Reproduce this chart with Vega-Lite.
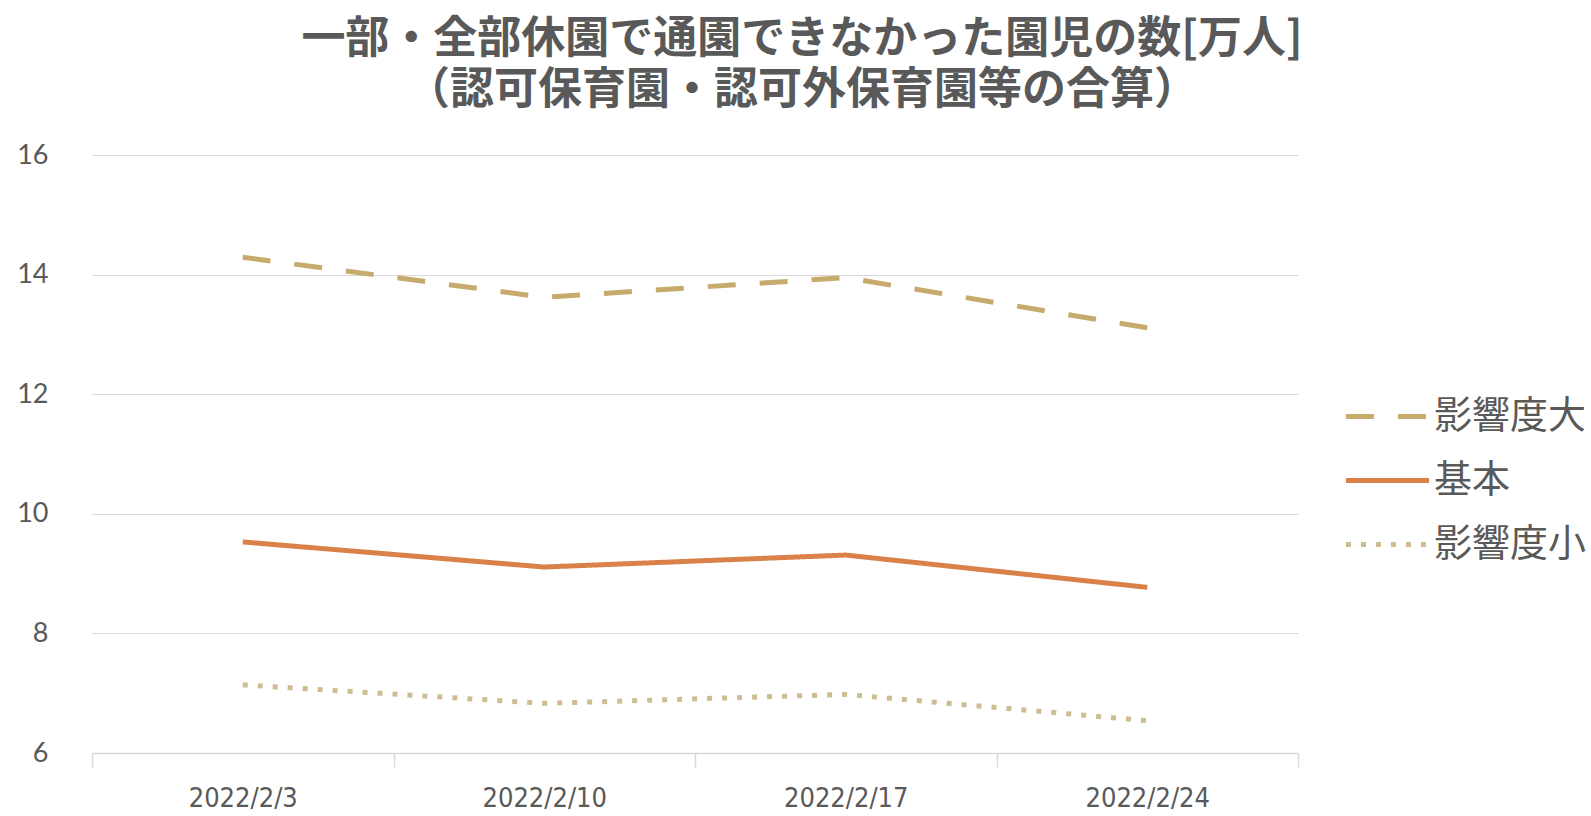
{
  "$schema": "https://vega.github.io/schema/vega-lite/v6.json",
  "width": 1206,
  "height": 598,
  "autosize": {"type": "none"},
  "padding": {"left": 92, "top": 155, "right": 293, "bottom": 63},
  "background": "white",
  "config": {"view": {"stroke": null}},
  "title": {
    "text": ["一部・全部休園で通園できなかった園児の数[万人]", "（認可保育園・認可外保育園等の合算）"],
    "anchor": "middle",
    "frame": "group",
    "dx": 107,
    "offset": 28,
    "font": "Noto Sans CJK JP",
    "fontSize": 44,
    "fontWeight": "bold",
    "color": "#595959",
    "lineHeight": 51
  },
  "data": {
    "values": [
      {"date": "2022/2/3", "series": "影響度大", "value": 14.29},
      {"date": "2022/2/10", "series": "影響度大", "value": 13.62},
      {"date": "2022/2/17", "series": "影響度大", "value": 13.95},
      {"date": "2022/2/24", "series": "影響度大", "value": 13.11},
      {"date": "2022/2/3", "series": "基本", "value": 9.53},
      {"date": "2022/2/10", "series": "基本", "value": 9.11},
      {"date": "2022/2/17", "series": "基本", "value": 9.31},
      {"date": "2022/2/24", "series": "基本", "value": 8.77},
      {"date": "2022/2/3", "series": "影響度小", "value": 7.14},
      {"date": "2022/2/10", "series": "影響度小", "value": 6.83},
      {"date": "2022/2/17", "series": "影響度小", "value": 6.98},
      {"date": "2022/2/24", "series": "影響度小", "value": 6.54}
    ]
  },
  "mark": {"type": "line", "strokeWidth": 5, "strokeCap": "butt"},
  "encoding": {
    "x": {
      "field": "date",
      "type": "ordinal",
      "sort": null,
      "scale": {"type": "band", "paddingInner": 0, "paddingOuter": 0},
      "axis": {
        "title": null,
        "labelAngle": 0,
        "tickBand": "extent",
        "tickSize": 14,
        "tickColor": "#d9d9d9",
        "tickWidth": 1.5,
        "domainColor": "#d9d9d9",
        "domainWidth": 1.5,
        "labelFont": "DejaVu Sans Condensed, Lato",
        "labelFontSize": 27,
        "labelColor": "#595959",
        "labelPadding": 18
      }
    },
    "y": {
      "field": "value",
      "type": "quantitative",
      "scale": {"domain": [6, 16], "nice": false, "zero": false},
      "axis": {
        "title": null,
        "values": [6, 8, 10, 12, 14, 16],
        "domain": false,
        "ticks": false,
        "gridColor": "#d9d9d9",
        "gridWidth": 1.2,
        "labelFont": "Lato",
        "labelFontSize": 27,
        "labelColor": "#595959",
        "labelPadding": 44
      }
    },
    "color": {
      "field": "series",
      "type": "nominal",
      "title": null,
      "scale": {"domain": ["影響度大", "基本", "影響度小"], "range": ["#C6AB6C", "#D98148", "#CDBD92"]},
      "legend": {
        "title": null,
        "orient": "none",
        "legendX": 1251,
        "legendY": 217,
        "symbolType": "stroke",
        "symbolSize": 6900,
        "symbolStrokeWidth": 5,
        "labelFont": "Noto Sans CJK JP",
        "labelFontSize": 38,
        "labelColor": "#595959",
        "labelOffset": 2,
        "rowPadding": -13
      }
    },
    "strokeDash": {
      "field": "series",
      "type": "nominal",
      "title": null,
      "scale": {"domain": ["影響度大", "基本", "影響度小"], "range": [[28, 24], [1, 0], [5, 10]]}
    }
  }
}
